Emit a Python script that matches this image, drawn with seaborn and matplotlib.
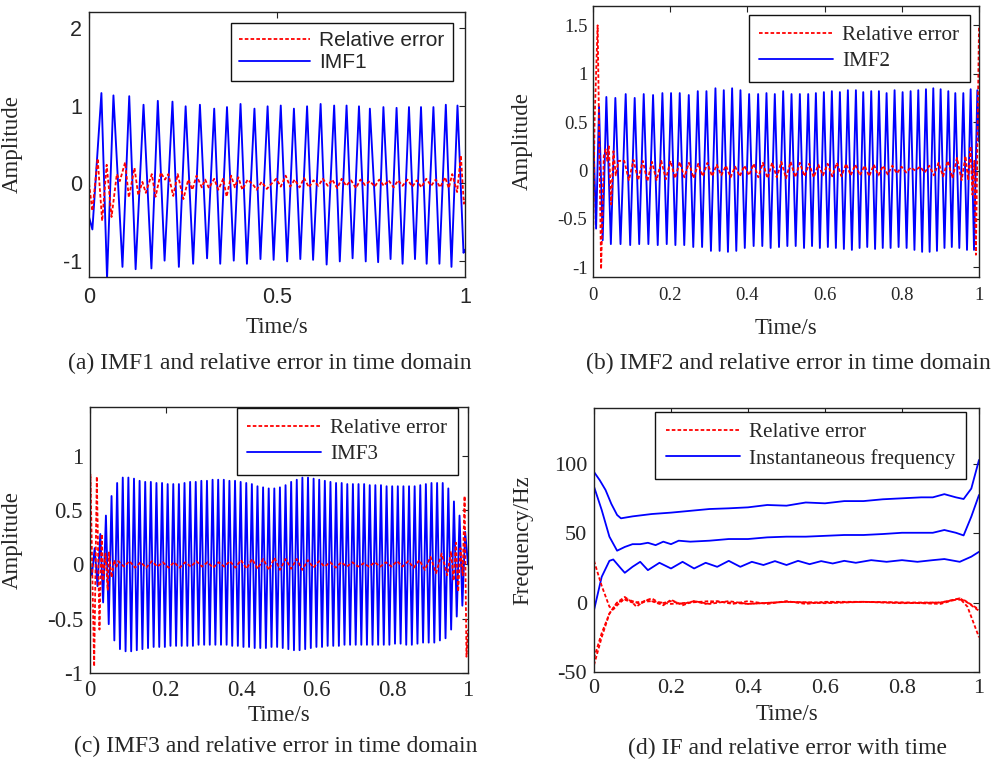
import numpy as np
import pandas as pd
import matplotlib
matplotlib.use("Agg")
import matplotlib.pyplot as plt
from matplotlib.lines import Line2D
import seaborn as sns

sns.set_style("white")
plt.rcParams["axes.unicode_minus"] = False
plt.rcParams["font.family"] = ["Liberation Serif", "DejaVu Serif"]

# ---------------- (a) IMF1 ----------------
imf1_t = [0.0, 0.009, 0.033, 0.048, 0.065, 0.089, 0.107, 0.124, 0.145, 0.166, 0.183, 0.201,
          0.222, 0.239, 0.257, 0.277, 0.295, 0.314, 0.333, 0.349, 0.367, 0.385, 0.403, 0.42,
          0.44, 0.456, 0.475, 0.491, 0.51, 0.527, 0.545, 0.562, 0.58, 0.596, 0.616, 0.632,
          0.652, 0.667, 0.685, 0.701, 0.718, 0.736, 0.747, 0.769, 0.783, 0.802, 0.818, 0.834,
          0.851, 0.867, 0.883, 0.898, 0.916, 0.932, 0.949, 0.964, 0.98, 0.996, 1.0]
imf1_v = [-0.43, -0.59, 1.16, -1.22, 1.13, -1.07, 1.12, -1.1, 1.01, -1.09, 1.06, -0.99,
          1.05, -1.07, 0.99, -1.03, 1.01, -0.96, 0.96, -1.03, 0.98, -0.99, 1.02, -1.03,
          0.96, -0.97, 0.99, -0.98, 1.0, -1.0, 0.96, -0.97, 0.99, -0.98, 1.02, -1.04,
          1.0, -1.0, 1.0, -0.96, 0.99, -1.0, 0.96, -1.01, 0.98, -0.97, 0.97, -1.03,
          0.98, -0.97, 0.98, -1.03, 0.98, -1.03, 1.01, -1.07, 1.0, -0.89, -0.85]
err1_t = [0.0, 0.009, 0.023, 0.035, 0.047, 0.06, 0.074, 0.082, 0.096, 0.106, 0.121, 0.131,
          0.142, 0.151, 0.167, 0.177, 0.191, 0.202, 0.211, 0.224, 0.236, 0.251, 0.264, 0.275,
          0.286, 0.3, 0.309, 0.319, 0.333, 0.344, 0.357, 0.366, 0.378, 0.388, 0.397, 0.408,
          0.422, 0.437, 0.446, 0.459, 0.473, 0.486,
          0.498, 0.51, 0.523, 0.535, 0.547, 0.56, 0.572, 0.585, 0.597, 0.61, 0.622, 0.635,
          0.647, 0.66, 0.672, 0.684, 0.697, 0.71, 0.722, 0.734, 0.747, 0.76, 0.772, 0.784,
          0.797, 0.81, 0.822, 0.834, 0.847, 0.86, 0.872, 0.884, 0.897, 0.91, 0.922, 0.934,
          0.947, 0.957, 0.966, 0.979, 0.989, 0.997, 1.0]
err1_v = [0.0, -0.35, 0.32, -0.48, 0.24, -0.43, 0.12, 0.03, 0.27, -0.18, 0.2, -0.15,
          0.02, -0.12, 0.12, -0.17, 0.14, 0.05, 0.12, -0.16, 0.12, -0.2, 0.05, -0.08,
          0.1, -0.05, 0.05, -0.06, 0.06, -0.08, 0.06, -0.17, 0.1, -0.05, 0.08, -0.08,
          0.05, -0.02, -0.08, 0.02, -0.07, 0.0,
          0.06, -0.04, 0.1, -0.04, 0.05, -0.05, 0.07, -0.05, 0.04, -0.03, 0.06, -0.03,
          0.05, -0.06, 0.06, -0.03, 0.04, -0.06, 0.05, -0.02, 0.03, -0.04, 0.05, -0.03,
          0.04, -0.05, 0.04, -0.03, 0.05, -0.04, 0.04, -0.05, 0.06, -0.03, 0.05, -0.05,
          0.08, -0.06, 0.12, -0.11, 0.36, -0.26, -0.2]

# ---------------- (b) IMF2 ----------------
imf2_start = (0.0, 0.5)
imf2_peak_t = [0.0156, 0.0346, 0.0579, 0.0847, 0.108, 0.1314, 0.1556, 0.1798, 0.2022, 0.2247,
               0.2481, 0.2714, 0.2939, 0.3172, 0.3388, 0.3604, 0.382, 0.4045, 0.4278, 0.4494,
               0.471, 0.4927, 0.5143, 0.5359, 0.5575, 0.5774, 0.5981, 0.6188, 0.6396, 0.6603,
               0.6811, 0.7001, 0.7208, 0.7407, 0.7606, 0.7813, 0.8021, 0.8228, 0.8427, 0.8626,
               0.8816, 0.9006, 0.9205, 0.9386, 0.9594, 0.9784, 0.9957]
imf2_peak_v = [0.66, 0.76, 0.75, 0.79, 0.75, 0.79, 0.78, 0.8, 0.8, 0.8,
               0.78, 0.82, 0.82, 0.85, 0.83, 0.85, 0.83, 0.79, 0.79, 0.8,
               0.79, 0.82, 0.79, 0.79, 0.79, 0.8, 0.81, 0.82, 0.81, 0.83,
               0.83, 0.81, 0.82, 0.82, 0.8, 0.83, 0.81, 0.82, 0.83, 0.84,
               0.85, 0.84, 0.82, 0.8, 0.8, 0.84, 0.83]
imf2_trough_v = [-0.6, -0.72, -0.76, -0.76, -0.77, -0.76, -0.76, -0.77, -0.76, -0.77,
                 -0.77, -0.79, -0.79, -0.83, -0.83, -0.84, -0.83, -0.8, -0.78, -0.78,
                 -0.8, -0.79, -0.78, -0.78, -0.8, -0.78, -0.8, -0.79, -0.8, -0.81,
                 -0.82, -0.8, -0.79, -0.81, -0.8, -0.8, -0.79, -0.8, -0.82, -0.84,
                 -0.84, -0.83, -0.8, -0.79, -0.8, -0.82, -0.82]
imf2_end = (1.0, 0.3)

err2_head_t = [0.0, 0.004, 0.012, 0.021, 0.028, 0.033, 0.037, 0.041, 0.047, 0.053, 0.059, 0.066]
err2_head_v = [-0.8, 0.5, 1.5, -1.02, 0.15, 0.22, 0.1, 0.25, -0.35, 0.2, -0.05, 0.1]
err2_mid_v = [0.1, -0.1, 0.11, -0.1, 0.1, -0.11, 0.09, -0.1, 0.1, -0.09, 0.1, -0.08, 0.09, -0.07,
              0.08, -0.08, 0.07, -0.06, 0.08,
              -0.06, 0.06, -0.05, 0.05, -0.07, 0.04, -0.06, 0.05, -0.05, 0.07, -0.07, 0.08,
              -0.08, 0.08, -0.07, 0.09, -0.08,
              0.09, -0.07, 0.08, -0.06, 0.07, -0.07, 0.06, -0.05, 0.07, -0.06, 0.08, -0.06,
              0.07, -0.05, 0.06, -0.05, 0.05, -0.06, 0.06, -0.05, 0.05,
              -0.04, 0.05, -0.03, 0.04, -0.02, 0.03, 0.0, 0.04, -0.02, 0.05, -0.05, 0.08,
              -0.06, 0.1, -0.08, 0.13, -0.1]
err2_mid_span = (0.081, 0.955)
err2_tail_t = [0.965, 0.972, 0.978, 0.983, 0.988, 0.992, 1.0]
err2_tail_v = [0.15, -0.1, 0.25, -0.25, 0.1, -0.87, 1.48]

# ---------------- (c) IMF3 ----------------
imf3_span = (0.005, 0.9925)
imf3_trough_v = [-0.1, -0.2, -0.35, -0.55, -0.7, -0.78, -0.8, -0.8, -0.79, -0.78,
                 -0.77, -0.76, -0.76, -0.76, -0.75, -0.75, -0.75, -0.75, -0.75, -0.74,
                 -0.74, -0.74, -0.74, -0.74, -0.74, -0.75, -0.75, -0.76, -0.76, -0.77,
                 -0.77, -0.77, -0.76, -0.76, -0.77, -0.78, -0.79, -0.79, -0.78, -0.77,
                 -0.76, -0.76, -0.75, -0.75, -0.75, -0.74, -0.74, -0.74, -0.74, -0.74,
                 -0.74, -0.74, -0.74, -0.74, -0.73, -0.73, -0.74, -0.74, -0.73, -0.72,
                 -0.72, -0.72, -0.7, -0.68, -0.6, -0.48, -0.38]
imf3_peak_v = [0.15, 0.28, 0.45, 0.63, 0.75, 0.8, 0.8, 0.79, 0.77, 0.76,
               0.76, 0.75, 0.75, 0.74, 0.74, 0.74, 0.75, 0.76, 0.76, 0.77,
               0.77, 0.78, 0.78, 0.78, 0.77, 0.77, 0.76, 0.75, 0.74, 0.72,
               0.71, 0.70, 0.70, 0.71, 0.73, 0.76, 0.78, 0.80, 0.80, 0.79,
               0.78, 0.77, 0.76, 0.75, 0.75, 0.74, 0.74, 0.74, 0.74, 0.73,
               0.73, 0.73, 0.72, 0.72, 0.72, 0.72, 0.72, 0.72, 0.73, 0.74,
               0.75, 0.75, 0.75, 0.70, 0.58, 0.45, 0.30]
imf3_ends = (0.0, 0.0, 1.0, 0.0)

err3_head_t = [0.0, 0.001, 0.011, 0.018, 0.025, 0.031, 0.035, 0.041, 0.047, 0.05, 0.057, 0.064, 0.07]
err3_head_v = [0.0, 0.83, -0.94, 0.81, -0.6, 0.28, -0.15, 0.1, -0.24, 0.11, -0.12, 0.04, -0.02]
err3_mid_v = [0.03, -0.02, 0.03, -0.03, 0.02, -0.03, 0.03, -0.02, 0.02,
              -0.03, 0.02, -0.03, 0.02, -0.02, 0.03, -0.02, 0.02, -0.03, 0.02, -0.02, 0.03, -0.03, 0.04,
              -0.04, 0.05, -0.04, 0.05, -0.05, 0.06, -0.05, 0.05, -0.04, 0.05, -0.05, 0.04, -0.03, 0.03,
              -0.02, 0.02, -0.03, 0.02, -0.02, 0.02, -0.02, 0.01, -0.02, 0.02, -0.02, 0.02, -0.02, 0.03,
              -0.02, 0.03, -0.03,
              0.04, -0.05, 0.07, -0.08, 0.1, -0.1]
err3_mid_span = (0.075, 0.945)
err3_tail_t = [0.955, 0.962, 0.968, 0.974, 0.98, 0.986, 0.991, 0.996, 1.0]
err3_tail_v = [0.12, -0.15, 0.2, -0.25, 0.15, -0.1, 0.63, -0.85, -0.6]

# ---------------- (d) IF ----------------
if_top_t = [0, 0.015, 0.03, 0.045, 0.06, 0.07, 0.1, 0.15, 0.2, 0.25, 0.3, 0.35, 0.4, 0.45, 0.5,
            0.55, 0.6, 0.65, 0.7, 0.75, 0.8, 0.85, 0.88, 0.91, 0.94, 0.96, 0.98, 1.0]
if_top_v = [94, 88, 81, 71, 63, 60.6, 62, 63.7, 64.7, 66, 67.3, 67.8, 68.5, 70.2, 69.7,
            72, 71.4, 73, 73, 74.3, 75, 75.7, 75.7, 78, 75.7, 74.5, 82, 102.6]
if_mid_t = [0, 0.02, 0.04, 0.06, 0.08, 0.1, 0.12, 0.14, 0.16, 0.18, 0.2, 0.22, 0.25, 0.3, 0.35,
            0.4, 0.45, 0.5, 0.55, 0.6, 0.65, 0.7, 0.75, 0.8, 0.85, 0.88, 0.91, 0.94, 0.96, 0.98, 1.0]
if_mid_v = [83.4, 66.6, 47.4, 37.3, 40, 42, 42, 43, 41.3, 43.8, 42, 44.5, 43.8, 44.5, 45.7,
            45.7, 46.9, 47.4, 47.4, 48, 48.6, 48.6, 49.3, 50.2, 50.2, 50.2, 52.2, 50.2, 48.3, 61.8, 77.4]
if_low_t = [0, 0.02, 0.04, 0.05, 0.07, 0.08, 0.1, 0.12, 0.14, 0.17, 0.2, 0.23, 0.26, 0.29, 0.32,
            0.35, 0.38, 0.41, 0.44, 0.47, 0.5, 0.53, 0.56, 0.59, 0.62, 0.65, 0.68, 0.72, 0.76,
            0.8, 0.84, 0.88, 0.91, 0.95, 0.98, 1.0]
if_low_v = [-5.5, 18.5, 30, 31, 24.5, 21.4, 25.7, 29.3, 23.3, 28.6, 24.5, 29.3, 24.5, 28.6, 25.7,
            30, 25.7, 29.3, 27, 29.8, 27, 30, 27.6, 29.8, 28.1, 30, 28.6, 30.5, 29.3,
            30.5, 29.3, 30.5, 31.3, 29.3, 33, 36.5]
ife_a_t = [0, 0.02, 0.04, 0.05, 0.06, 0.08, 0.1, 0.12, 0.14, 0.17, 0.2, 0.23, 0.26, 0.3, 0.35,
           0.4, 0.5, 0.6, 0.7, 0.8, 0.9, 0.95, 0.97, 1.0]
ife_a_v = [30, 12, -3, -5, -2, 3, 1, -1, 2, -1, 1, -1, 1, -1, 1, -1, 0.5, -0.5, 0.5, -0.5, 0, 3, 0, -6]
ife_b_t = [0, 0.02, 0.04, 0.06, 0.08, 0.1, 0.11, 0.13, 0.15, 0.18, 0.2, 0.23, 0.26, 0.29, 0.32,
           0.36, 0.4, 0.45, 0.5, 0.55, 0.6, 0.7, 0.8, 0.9, 0.95, 0.97, 1.0]
ife_b_v = [-40, -22, -8, 0, 4, 0, -3, 1, 3, -2, 2, -2, 1, -1, 1, -1, 1, -1, 1, -1, 0.5, 0.5, 0,
           -1, 3, -3, -25]
ife_c_t = [0, 0.02, 0.04, 0.06, 0.08, 0.1, 0.15, 0.2, 0.3, 0.4, 0.5, 0.6, 0.7, 0.8, 0.9, 0.94, 0.96, 1.0]
ife_c_v = [-45, -25, -8, 0, 2, 0, 1, -1, 1, -1, 0.5, 0, 0.5, 0, 0, 2, 2, -5]

x_ticks_a = [0, 0.5, 1]
x_labels_a = ["0", "0.5", "1"]
y_ticks_a = [-1, 0, 1, 2]
y_labels_a = ["-1", "0", "1", "2"]
x_ticks = [0, 0.2, 0.4, 0.6, 0.8, 1]
x_labels = ["0", "0.2", "0.4", "0.6", "0.8", "1"]
y_ticks_b = [-1, -0.5, 0, 0.5, 1, 1.5]
y_labels_b = ["-1", "-0.5", "0", "0.5", "1", "1.5"]
y_ticks_c = [-1, -0.5, 0, 0.5, 1]
y_labels_c = ["-1", "-0.5", "0", "0.5", "1"]
y_ticks_d = [-50, 0, 50, 100]
y_labels_d = ["-50", "0", "50", "100"]

captions = ["(a) IMF1 and relative error in time domain",
            "(b) IMF2 and relative error in time domain",
            "(c) IMF3 and relative error in time domain",
            "(d) IF and relative error with time"]

# ---------------- assemble sequences ----------------
def interleave(a, b):
    out = []
    for i in range(max(len(a), len(b))):
        if i < len(a):
            out.append(a[i])
        if i < len(b):
            out.append(b[i])
    return out

pk = np.array(imf2_peak_t)
imf2_trough_t = [0.008] + list((pk[:-1] + pk[1:]) / 2)
imf2_t = [imf2_start[0]] + interleave(imf2_trough_t, imf2_peak_t) + [imf2_end[0]]
imf2_v = [imf2_start[1]] + interleave(imf2_trough_v, imf2_peak_v) + [imf2_end[1]]

err2_t = err2_head_t + list(np.linspace(*err2_mid_span, len(err2_mid_v))) + err2_tail_t
err2_v = err2_head_v + err2_mid_v + err2_tail_v

imf3_seq = interleave(imf3_trough_v, imf3_peak_v)
imf3_t = [imf3_ends[0]] + list(np.linspace(*imf3_span, len(imf3_seq))) + [imf3_ends[2]]
imf3_v = [imf3_ends[1]] + imf3_seq + [imf3_ends[3]]

err3_t = err3_head_t + list(np.linspace(*err3_mid_span, len(err3_mid_v))) + err3_tail_t
err3_v = err3_head_v + err3_mid_v + err3_tail_v

# ---------------- drawing ----------------
W, H = 993, 764
fig = plt.figure(figsize=(W / 100, H / 100), dpi=100)

BLUE = "#0000ff"
RED = "#ff0000"
RED_LS = (0, (2.0, 1.2))
SERIF = ["Liberation Serif", "DejaVu Serif"]
SANS = ["Liberation Sans", "DejaVu Sans"]


def make_ax(l, r, t, b):
    return fig.add_axes([l / W, 1 - b / H, (r - l) / W, (b - t) / H])


def draw(ax, t, v, color, ls="-", lw=1.35):
    df = pd.DataFrame({"t": t, "v": v})
    sns.lineplot(data=df, x="t", y="v", ax=ax, estimator=None, sort=False,
                 color=color, linestyle=ls, linewidth=lw, legend=False)


def style(ax, xt, xl, yt, yl, tfont, tsize, xpad, ypad, xlim, ylim,
          ylabel, ylab_x, xlab_y, lsize=16.5):
    ax.set_xlim(*xlim)
    ax.set_ylim(*ylim)
    ax.set_xticks(xt)
    ax.set_xticklabels(xl, family=tfont, size=tsize)
    ax.set_yticks(yt)
    ax.set_yticklabels(yl, family=tfont, size=tsize)
    ax.tick_params(axis="both", direction="in", top=True, right=True,
                   length=4, width=0.8, color="#222222")
    ax.tick_params(axis="x", pad=xpad)
    ax.tick_params(axis="y", pad=ypad)
    for s in ax.spines.values():
        s.set_color("#222222")
        s.set_linewidth(1.0)
    ax.set_xlabel("Time/s", family=SERIF, size=lsize)
    ax.set_ylabel(ylabel, family=SERIF, size=lsize)
    ax.yaxis.set_label_coords(ylab_x, 0.5)
    ax.xaxis.set_label_coords(0.5, xlab_y)


def legend(ax, labels, right, top, font, size=15.2, spacing=0.3, bpad=0.5, hlen=3.5):
    h = [Line2D([], [], color=RED, linestyle=RED_LS, linewidth=1.3),
         Line2D([], [], color=BLUE, linewidth=1.3)]
    leg = ax.legend(h, labels, loc="upper right",
                    bbox_to_anchor=(right / W, 1 - top / H),
                    bbox_transform=fig.transFigure, borderaxespad=0,
                    prop={"family": font, "size": size}, handlelength=hlen,
                    handletextpad=0.45, labelspacing=spacing, borderpad=bpad,
                    fancybox=False, framealpha=1, edgecolor="#111111")
    leg.get_frame().set_linewidth(1.0)


# (a)
ax = make_ax(89, 465, 12, 277)
draw(ax, imf1_t, imf1_v, BLUE)
draw(ax, err1_t, err1_v, RED, RED_LS, 1.3)
style(ax, x_ticks_a, x_labels_a, y_ticks_a, y_labels_a, SANS, 15.5, 7, 5,
      (0, 1), (-1.2, 2.2), "Amplitude", -0.176, -0.15)
legend(ax, ["Relative error", "IMF1"], 453, 23, SANS, size=15, spacing=0.15, bpad=0.4, hlen=3.4)

# (b)
ax = make_ax(593, 979, 6, 277)
draw(ax, imf2_t, imf2_v, BLUE)
draw(ax, err2_t, err2_v, RED, RED_LS, 1.3)
style(ax, x_ticks, x_labels, y_ticks_b, y_labels_b, SERIF, 13.5, 7, 4,
      (0, 1), (-1.1, 1.7), "Amplitude", -0.155, -0.15)
legend(ax, ["Relative error", "IMF2"], 970, 15, SERIF)

# (c)
ax = make_ax(90, 468, 407, 673)
draw(ax, imf3_t, imf3_v, BLUE)
draw(ax, err3_t, err3_v, RED, RED_LS, 1.3)
style(ax, x_ticks, x_labels, y_ticks_c, y_labels_c, SERIF, 16.5, 5, 5,
      (0, 1), (-1, 1.45), "Amplitude", -0.177, -0.12)
legend(ax, ["Relative error", "IMF3"], 458, 408, SERIF)

# (d)
ax = make_ax(594, 979, 408, 672)
for t, v in [(if_top_t, if_top_v), (if_mid_t, if_mid_v), (if_low_t, if_low_v)]:
    draw(ax, t, v, BLUE, "-", 1.3)
for t, v in [(ife_a_t, ife_a_v), (ife_b_t, ife_b_v), (ife_c_t, ife_c_v)]:
    draw(ax, t, v, RED, RED_LS, 1.3)
style(ax, x_ticks, x_labels, y_ticks_d, y_labels_d, SERIF, 16, 5, 5,
      (0, 1), (-50, 140), "Frequency/Hz", -0.158, -0.12)
legend(ax, ["Relative error", "Instantaneous frequency"], 966, 412, SERIF)

# captions
for (cx, cy), txt in zip([(270, 363), (788, 363), (276, 746), (787, 748)], captions):
    fig.text(cx / W, 1 - cy / H, txt, ha="center", va="center", family=SERIF, size=17)

fig.savefig("out.png", dpi=100)
